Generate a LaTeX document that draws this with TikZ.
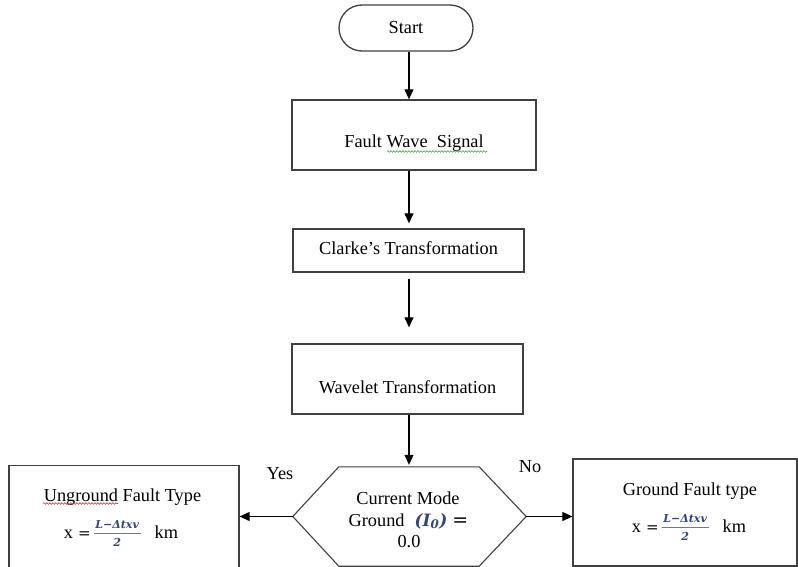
\documentclass[tikz,border=0pt]{standalone}
\usepackage{fontspec}
\setmainfont{Liberation Serif}
\newfontfamily\mathfnt{DejaVu Serif}
\usetikzlibrary{arrows.meta,calc,decorations.pathmorphing}
\definecolor{ln}{RGB}{64,64,64}
\definecolor{mblue}{RGB}{52,70,118}
\definecolor{barc}{RGB}{120,120,120}
\definecolor{spellred}{RGB}{225,40,40}
\definecolor{spellgreen}{RGB}{60,165,60}
\newcommand{\numstyle}{\mathfnt\fontsize{11}{12}\selectfont\bfseries\itshape\color{mblue}}
\newcommand{\fxfrac}{\ensuremath{\vcenter{\offinterlineskip
  \hbox to 47pt{\hss{\numstyle L−Δtxv}\hss}\kern4pt
  \hbox{\color{barc}\rule{47pt}{1.2pt}}\kern4pt
  \hbox to 47pt{\hss{\numstyle 2}\hss}}}}
\newcommand{\eqsign}[1][15]{{\mathfnt\fontsize{#1}{16}\selectfont =}}
\newcommand{\fxformula}{x\hspace{5pt}\eqsign\hspace{3pt}\fxfrac\hspace{14pt}km}
\begin{document}
\begin{tikzpicture}[x=1pt,y=-1pt,
  every node/.style={font=\fontsize{18.3}{22}\selectfont, inner sep=0pt},
  box/.style={draw=ln, line width=1.3pt, fill=white},
  term/.style={box, rounded corners=23pt},
  arr/.style={draw=black, line width=1.1pt, -{Triangle[length=10pt,width=9pt]}},
  lbl/.style={anchor=base},
  spell/.style={line width=0.6pt, decorate,
    decoration={snake, amplitude=0.8pt, segment length=3pt}}]
\useasboundingbox (0,0) rectangle (798,567);

% main column
\node[term, anchor=base, minimum width=134pt, text height=29pt, text depth=17pt] (start) at (406,34) {Start};
\node[box, anchor=base, minimum width=244pt, text height=48pt, text depth=22pt] (fault) at (414,148) {Fault Wave\ \ Signal};
\node[box, anchor=base, minimum width=231pt, text height=25pt, text depth=18pt] (clarke) at (408.5,254) {Clarke’s Transformation};
\node[box, anchor=base, minimum width=231pt, text height=49pt, text depth=21pt] (wave) at (407.5,393) {Wavelet Transformation};

% decision hexagon
\node[minimum width=233pt, minimum height=99pt] (hex) at (409.5,516.5) {};
\draw[ln, line width=1.1pt]
  (hex.west) -- ($(hex.north west)+(46,0)$) -- ($(hex.north east)+(-47,0)$)
  -- (hex.east) -- ($(hex.south east)+(-47,0)$) -- ($(hex.south west)+(46,0)$) -- cycle;
\node[lbl] (h1) at (408,504) {Current Mode};
\node[lbl] (h2) at (408.5,526) {Ground\hspace{10pt}{\mathfnt\fontsize{17}{20}\selectfont\bfseries\itshape\color{mblue}(I\textsubscript{0})}\hspace{5pt}\eqsign[19]};
\node[lbl] (h3) at (409,547) {0.0};

% outcome boxes
\node[box, minimum width=230pt, minimum height=140pt, anchor=north] (ubox) at (124,465) {};
\node[lbl] (ut) at (122.5,501) {Unground Fault Type};
\node[lbl] (uf) at (121,538) {\fxformula};

\node[box, minimum width=224pt, minimum height=107pt] (gbox) at (685,512.5) {};
\node[lbl] (gt) at (690,495) {Ground Fault type};
\node[lbl] (gf) at (689,532) {\fxformula};

% branch labels
\node[lbl] (yes) at (280,479) {Yes};
\node[lbl] (no) at (530,472) {No};

% spell-check underlines
\draw[spell, spellred] (43,503.5) -- (118,503.5);
\draw[spell, spellgreen] (387,151.5) -- (487,151.5);

% connectors
\coordinate (ax) at (409,0);
\draw[arr] (start.south -| ax) -- (fault.north -| ax);
\draw[arr, shorten >=5pt] (fault.south -| ax) -- (clarke.north -| ax);
\draw[arr, shorten <=6pt, shorten >=16pt] (clarke.south -| ax) -- (wave.north -| ax);
\draw[arr, shorten >=2pt] (wave.south -| ax) -- (hex.north -| ax);
\draw[arr] (hex.west) -- (ubox.east |- hex.west);
\draw[arr] (hex.east) -- (gbox.west |- hex.east);
\end{tikzpicture}
\end{document}
